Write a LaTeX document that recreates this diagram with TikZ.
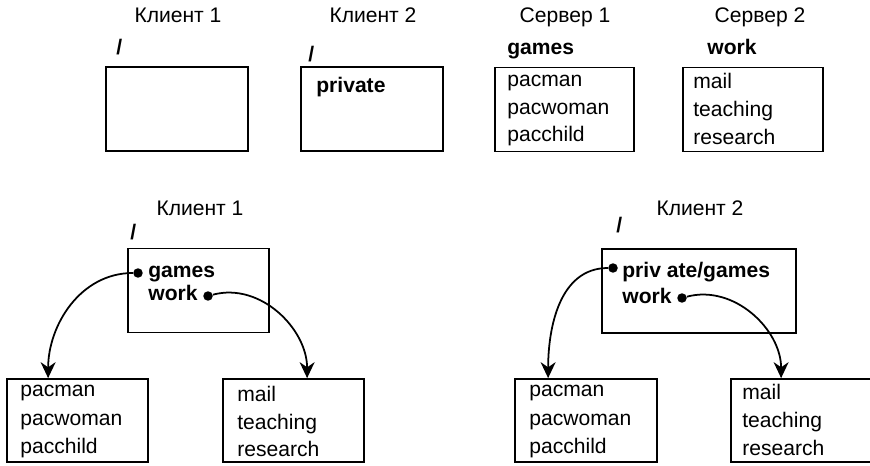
\documentclass[tikz,border=0pt]{standalone}
\usepackage{fontspec}
\setmainfont{Liberation Sans}
\usetikzlibrary{arrows.meta}

\begin{document}
\begin{tikzpicture}[x=0.02cm,y=-0.02cm]
		\tikzstyle{boite}=[draw,line width=1pt,minimum height=1.68cm]
		\tikzstyle{txt}=[anchor=base west,inner sep=0pt,font=\fontsize{12}{14}\selectfont]
		\tikzstyle{titre}=[anchor=base,inner sep=0pt,font=\fontsize{12}{14}\selectfont]
		\tikzstyle{rep}=[anchor=base west,inner sep=0pt,font=\fontsize{12}{14}\selectfont\bfseries]
		\tikzstyle{point}=[circle,fill,inner sep=0pt,minimum size=1.9mm]
		\tikzstyle{lien}=[line width=1pt,-{Stealth[length=3.2mm,width=3mm]}]
		\useasboundingbox (0,0) rectangle (870,466);
		% en haut
		\node[titre] (tc1) at (178,23) {Клиент 1};
		\node[titre] (tc2) at (373,23) {Клиент 2};
		\node[titre] (ts1) at (565,23) {Сервер 1};
		\node[titre] (ts2) at (760,23) {Сервер 2};
		\node[rep] (rc1) at (116,55) {/};
		\node[rep] (rc2) at (308,62) {/};
		\node[rep] (rs1) at (507,55) {games};
		\node[rep] (rs2) at (707,55) {work};
		\node[boite,minimum width=2.84cm] (c1) at (177,109) {};
		\node[boite,minimum width=2.84cm] (c2) at (372,109) {};
		\node[boite,minimum width=2.78cm] (s1) at (564.5,109.5) {};
		\node[boite,minimum width=2.80cm] (s2) at (753,109.5) {};
		\node[rep] (priv) at (316,93) {private};
		\node[txt] (s1a) at (507,87) {pacman};
		\node[txt] (s1b) at (507,115) {pacwoman};
		\node[txt] (s1c) at (507,142) {pacchild};
		\node[txt] (s2a) at (693,89) {mail};
		\node[txt] (s2b) at (693,117) {teaching};
		\node[txt] (s2c) at (693,145) {research};
		% en bas, gauche
		\node[titre] (tb1) at (200,215) {Клиент 1};
		\node[rep] (rb1) at (130,240) {/};
		\node[boite,minimum width=2.82cm] (b1) at (198.5,290.5) {};
		\node[rep] (g1) at (148,277) {games};
		\node[rep] (w1) at (148,300) {work};
		\node[point] (pg1) at (138,273) {};
		\node[point] (pw1) at (208,296) {};
		\node[boite,minimum width=2.82cm,minimum height=1.66cm] (l1) at (77.5,420.5) {};
		\node[boite,minimum width=2.82cm,minimum height=1.66cm] (r1) at (293.5,420.5) {};
		\node[txt] (l1a) at (20,397) {pacman};
		\node[txt] (l1b) at (20,425) {pacwoman};
		\node[txt] (l1c) at (20,453) {pacchild};
		\node[txt] (r1a) at (237,401) {mail};
		\node[txt] (r1b) at (237,429) {teaching};
		\node[txt] (r1c) at (237,457) {research};
		\draw[lien] (pg1) to[out=180,in=90] ([xshift=8.4mm]l1.north west);
		\draw[lien] (pw1) to[out=15,in=90] ([xshift=17mm]r1.north west);
		% en bas, droite
		\node[titre] (tb2) at (700,215) {Клиент 2};
		\node[rep] (rb2) at (616,233) {/};
		\node[boite,minimum width=3.88cm] (b2) at (699,291) {};
		\node[rep] (g2) at (622,277) {priv ate/games};
		\node[rep] (w2) at (622,303) {work};
		\node[point] (pg2) at (613,268) {};
		\node[point] (pw2) at (682,298) {};
		\node[boite,minimum width=2.84cm,minimum height=1.66cm] (l2) at (586,420.5) {};
		\node[boite,minimum width=2.98cm,minimum height=1.66cm] (r2) at (805.5,420.5) {};
		\node[txt] (l2a) at (529,397) {pacman};
		\node[txt] (l2b) at (529,425) {pacwoman};
		\node[txt] (l2c) at (529,453) {pacchild};
		\node[txt] (r2a) at (742,399) {mail};
		\node[txt] (r2b) at (742,427) {teaching};
		\node[txt] (r2c) at (742,455) {research};
		\draw[lien] (pg2) to[out=180,in=90] ([xshift=6.8mm]l2.north west);
		\draw[lien] (pw2) to[out=15,in=90] ([xshift=10.2mm]r2.north west);
	\end{tikzpicture}
\end{document}
